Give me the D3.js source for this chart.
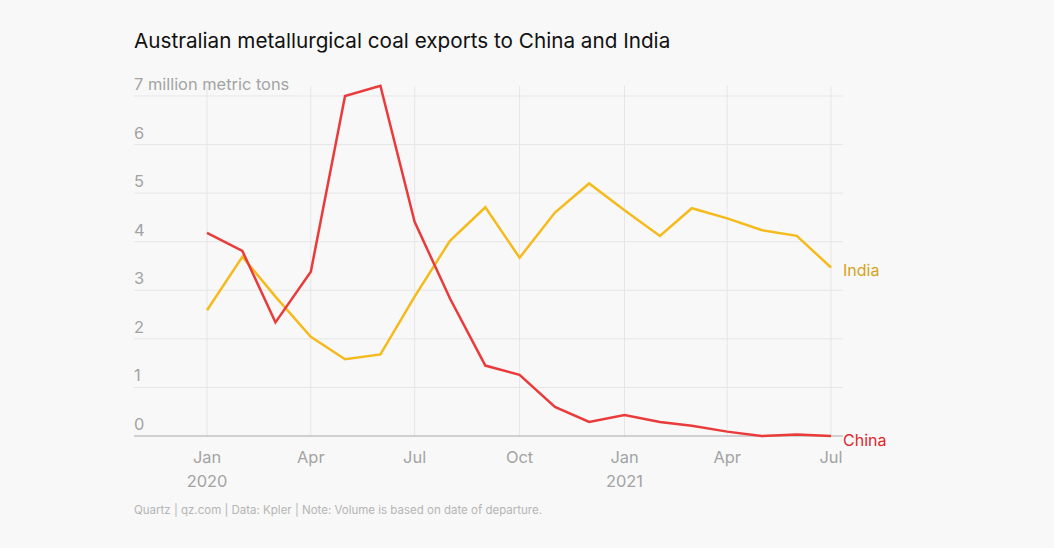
<!DOCTYPE html>
<html>
<head>
<meta charset="utf-8">
<script src="https://cdn.jsdelivr.net/npm/d3@7"></script>
<style>
  html, body { margin: 0; padding: 0; background: #f8f8f8; }
  svg { display: block; }
  text { font-family: Inter, "Noto Sans", sans-serif; }
</style>
</head>
<body>
<svg id="chart" width="1054" height="548"></svg>
<script>
const months = ["2020-01","2020-02","2020-03","2020-04","2020-05","2020-06","2020-07","2020-08","2020-09","2020-10","2020-11","2020-12","2021-01","2021-02","2021-03","2021-04","2021-05","2021-06","2021-07"];
const china = [4.18, 3.81, 2.34, 3.38, 7.00, 7.21, 4.41, 2.83, 1.45, 1.26, 0.60, 0.29, 0.43, 0.29, 0.21, 0.09, 0.00, 0.03, 0.00];
const india = [2.59, 3.69, 2.87, 2.04, 1.58, 1.68, 2.87, 4.02, 4.71, 3.67, 4.60, 5.20, 4.65, 4.12, 4.69, 4.48, 4.24, 4.12, 3.47];
const yTicks = [0, 1, 2, 3, 4, 5, 6, 7];
const xTickDates = ["2020-01","2020-04","2020-07","2020-10","2021-01","2021-04","2021-07"];
const xTickLabels = ["Jan", "Apr", "Jul", "Oct", "Jan", "Apr", "Jul"];
const xYearLabels = ["2020", "", "", "", "2021", "", ""];
const title = "Australian metallurgical coal exports to China and India";
const source = "Quartz | qz.com | Data: Kpler | Note: Volume is based on date of departure.";

const parse = d3.timeParse("%Y-%m");
const dates = months.map(parse);
const svg = d3.select("#chart");

const x = d3.scaleTime().domain([parse("2020-01"), parse("2021-07")]).range([207, 831]);
const y = d3.scaleLinear().domain([0, 7]).range([436, 96]);
const gridLeft = 134, gridRight = 843;

// title
svg.append("text").attr("x", 134).attr("y", 48)
  .attr("font-size", 20.7).attr("font-weight", 400).attr("fill", "#111")
  .text(title);

// vertical gridlines
svg.append("g").selectAll("line").data(xTickDates).join("line")
  .attr("x1", d => x(parse(d))).attr("x2", d => x(parse(d)))
  .attr("y1", 86).attr("y2", 436)
  .attr("stroke", "#e6e6e6").attr("stroke-width", 1);

// horizontal gridlines
svg.append("g").selectAll("line").data(yTicks.filter(d => d > 0)).join("line")
  .attr("x1", gridLeft).attr("x2", gridRight)
  .attr("y1", d => y(d)).attr("y2", d => y(d))
  .attr("stroke", "#e6e6e6").attr("stroke-width", 1);

// baseline
svg.append("line").attr("x1", gridLeft).attr("x2", gridRight)
  .attr("y1", y(0)).attr("y2", y(0)).attr("stroke", "#a8a8a8").attr("stroke-width", 1);

// y labels
svg.append("g").selectAll("text").data(yTicks).join("text")
  .attr("x", 134).attr("y", d => y(d) - 6)
  .attr("font-size", 16.4).attr("fill", "#a3a3a3")
  .text(d => d === 7 ? "7 million metric tons" : d);

// x labels
svg.append("g").selectAll("text").data(xTickDates).join("text")
  .attr("x", d => x(parse(d))).attr("y", 463)
  .attr("text-anchor", "middle").attr("font-size", 16.4).attr("fill", "#a3a3a3")
  .text((d, i) => xTickLabels[i]);
svg.append("g").selectAll("text").data(xTickDates).join("text")
  .attr("x", d => x(parse(d))).attr("y", 487)
  .attr("text-anchor", "middle").attr("font-size", 16.4).attr("fill", "#a3a3a3")
  .text((d, i) => xYearLabels[i]);

// lines
const line = d3.line().x((d, i) => x(dates[i])).y(d => y(d));
svg.append("path").datum(india).attr("d", line)
  .attr("fill", "none").attr("stroke", "#f5ba1b").attr("stroke-width", 2.5).attr("stroke-linejoin", "miter");
svg.append("path").datum(china).attr("d", line)
  .attr("fill", "none").attr("stroke", "#ea3a3a").attr("stroke-width", 2.5).attr("stroke-linejoin", "miter");

// series labels
svg.append("text").attr("x", 843).attr("y", y(india[india.length - 1]) + 9)
  .attr("font-size", 16).attr("fill", "#d6a21a").text("India");
svg.append("text").attr("x", 843).attr("y", y(china[china.length - 1]) + 10)
  .attr("font-size", 16).attr("fill", "#e0262b").text("China");

// source
svg.append("text").attr("x", 134).attr("y", 514)
  .attr("font-size", 11.5).attr("fill", "#b5b5b5").text(source);
</script>
</body>
</html>
